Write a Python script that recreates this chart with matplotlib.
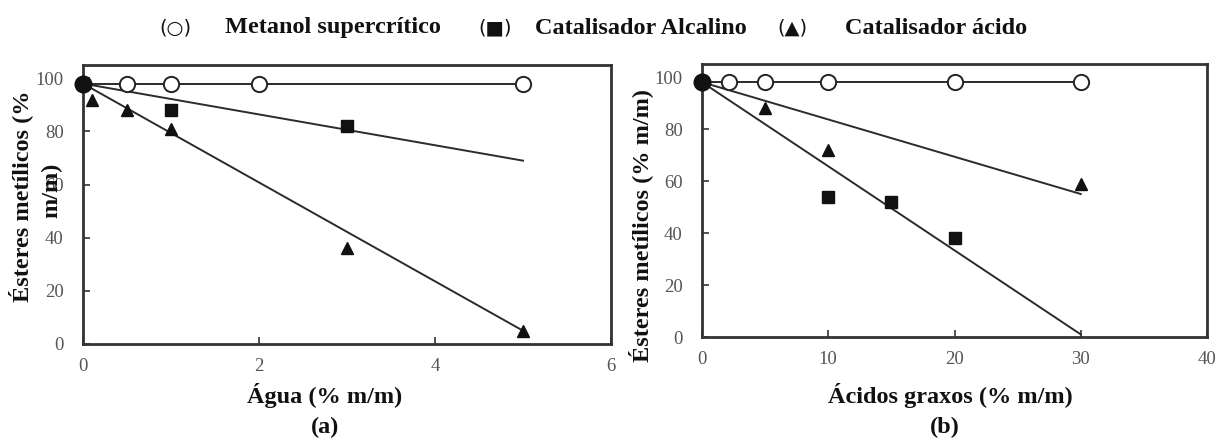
import matplotlib
matplotlib.use("Agg")
import matplotlib.pyplot as plt

# ---- data: panel (a), water content ----
agua_metanol_x = [0.5, 1, 2, 5]
agua_metanol_y = [98, 98, 98, 98]
agua_alcalino_x = [1, 3]
agua_alcalino_y = [88, 82]
agua_acido_x = [0.1, 0.5, 1, 3, 5]
agua_acido_y = [92, 88, 81, 36, 5]
agua_fit_metanol = ([0, 5], [98, 98])
agua_fit_alcalino = ([0, 5], [98, 69])
agua_fit_acido = ([0, 5], [98, 5])

# ---- data: panel (b), free fatty acids ----
ag_metanol_x = [2.1, 5, 10, 20, 30]
ag_metanol_y = [98, 98, 98, 98, 98]
ag_alcalino_x = [10, 15, 20]
ag_alcalino_y = [54, 52, 38]
ag_acido_x = [5, 10, 30]
ag_acido_y = [88, 72, 59]
ag_fit_metanol = ([0, 30], [98, 98])
ag_fit_alcalino = ([0, 30], [98, 1])
ag_fit_acido = ([0, 30], [98, 55])

start_x = [0]
start_y = [98]

agua_ticks = [0, 2, 4, 6]
ag_ticks = [0, 10, 20, 30, 40]
y_ticks = [0, 20, 40, 60, 80, 100]

SERIF = ["Liberation Serif", "DejaVu Serif"]
LINE_C = "#2b2b2b"
TICK_C = "#555555"

W, H = 1219, 441
fig = plt.figure(figsize=(W / 100, H / 100), dpi=100)


def fx(px):
    return px / W


def fy(py):
    return 1 - py / H


ax_a = fig.add_axes([fx(83), fy(344), fx(611) - fx(83), fy(65) - fy(344)])
ax_b = fig.add_axes([fx(702), fy(337), fx(1207) - fx(702), fy(64) - fy(337)])


def draw_panel(ax, fits, met, alc, aci, xlim, xticks):
    for xs, ys in fits:
        ax.plot(xs, ys, color=LINE_C, lw=1.4, zorder=2)
    ax.plot(met[0], met[1], ls="none", marker="o", ms=11, mfc="white",
            mec="#222222", mew=1.4, zorder=3)
    ax.plot(alc[0], alc[1], ls="none", marker="s", ms=8.5, color="#111111",
            zorder=3)
    ax.plot(aci[0], aci[1], ls="none", marker="^", ms=8.5, color="#111111",
            zorder=3)
    ax.plot(start_x, start_y, ls="none", marker="o", ms=12, color="#111111",
            zorder=4, clip_on=False)
    ax.set_xlim(*xlim)
    ax.set_ylim(0, 105)
    ax.set_xticks(xticks)
    ax.set_yticks(y_ticks)
    ax.tick_params(direction="in", length=5, width=1.2, color="#333333",
                   labelcolor=TICK_C, labelsize=13.5, top=False, right=False)
    ax.tick_params(axis="y", pad=14)
    ax.tick_params(axis="x", pad=10)
    for lab in ax.get_xticklabels() + ax.get_yticklabels():
        lab.set_family(SERIF)
    for sp in ax.spines.values():
        sp.set_linewidth(2.0)
        sp.set_color("#333333")


draw_panel(ax_a, [agua_fit_metanol, agua_fit_alcalino, agua_fit_acido],
           (agua_metanol_x, agua_metanol_y),
           (agua_alcalino_x, agua_alcalino_y),
           (agua_acido_x, agua_acido_y), (0, 6), agua_ticks)
draw_panel(ax_b, [ag_fit_metanol, ag_fit_alcalino, ag_fit_acido],
           (ag_metanol_x, ag_metanol_y),
           (ag_alcalino_x, ag_alcalino_y),
           (ag_acido_x, ag_acido_y), (0, 40), ag_ticks)

lab_kw = dict(family=SERIF, weight="bold", fontsize=17.5, color="#111111")

# axis titles (left one wraps onto two lines)
fig.text(fx(21), fy(196), "Ésteres metílicos (%", rotation=90,
         ha="center", va="center", **lab_kw)
fig.text(fx(52), fy(190), "m/m)", rotation=90,
         ha="center", va="center", **lab_kw)
fig.text(fx(641), fy(226), "Ésteres metílicos (% m/m)", rotation=90,
         ha="center", va="center", **lab_kw)
fig.text(fx(325), fy(395), "Água (% m/m)", ha="center", va="center", **lab_kw)
fig.text(fx(325), fy(427), "(a)", ha="center", va="center", **lab_kw)
fig.text(fx(950), fy(395), "Ácidos graxos (% m/m)", ha="center", va="center",
         **lab_kw)
fig.text(fx(945), fy(427), "(b)", ha="center", va="center", **lab_kw)

# legend line across the top
sym_kw = dict(family=["DejaVu Sans"], fontsize=14, color="#111111")
legend_items = [
    (159, "(○)", 225, "Metanol supercrítico"),
    (478, "(■)", 535, "Catalisador Alcalino"),
    (777, "(▲)", 845, "Catalisador ácido"),
]
for sx, sym, tx, txt in legend_items:
    fig.text(fx(sx), fy(28), sym, ha="left", va="center", **sym_kw)
    fig.text(fx(tx), fy(28), txt, ha="left", va="center", **lab_kw)

fig.savefig("out.png", dpi=100)
